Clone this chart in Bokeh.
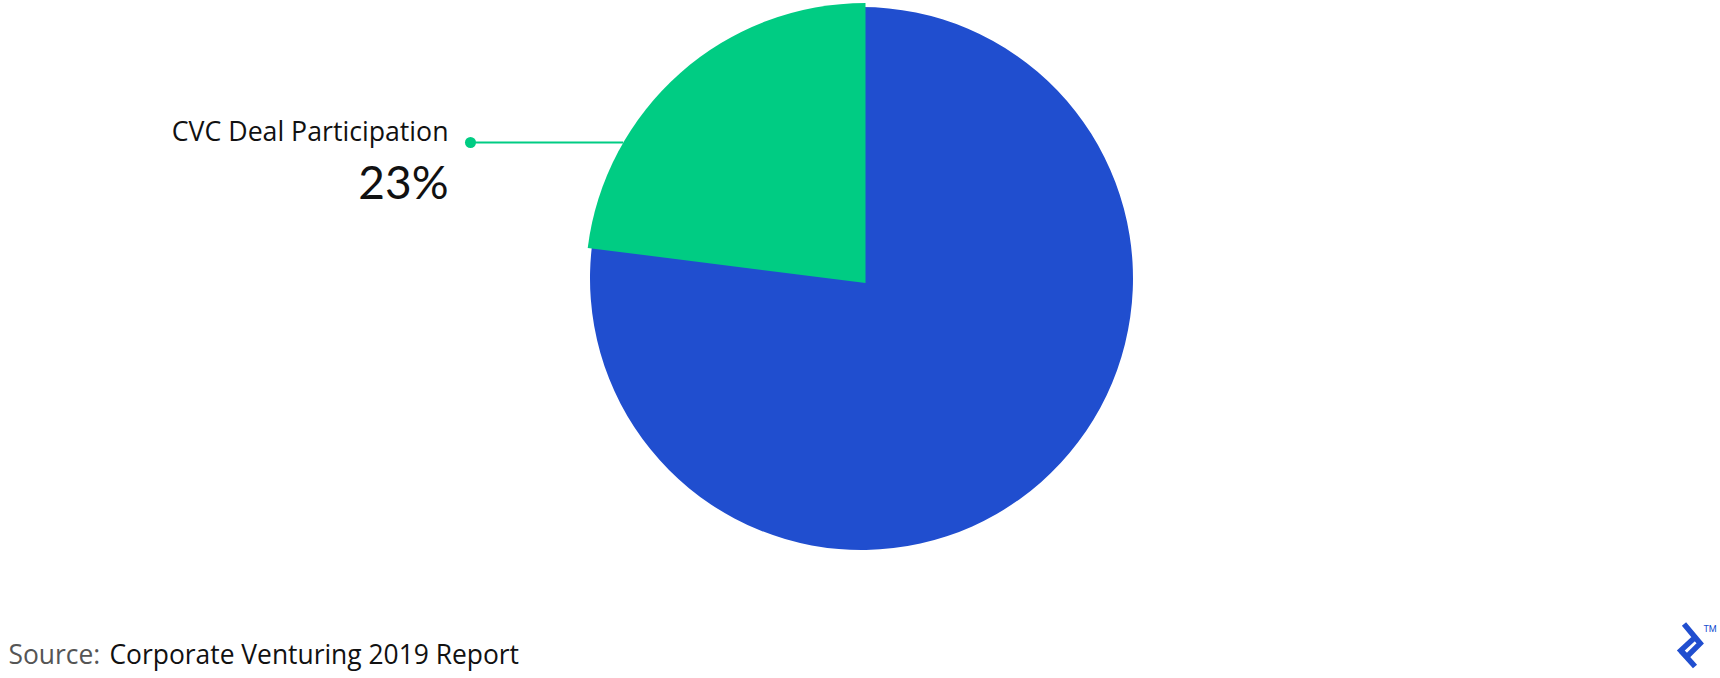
import numpy as np
from bokeh.plotting import figure
from bokeh.models import Range1d
from bokeh.core.properties import value
from bokeh.embed import file_html
from bokeh.resources import INLINE

# ---- data ----
categories = ["CVC Deal Participation", "Other"]
shares = [23, 77]
colors = ["#00CC83", "#204ECF"]
pct_labels = ["23%"]
source_prefix = "Source:"
source_text = "Corporate Venturing 2019 Report"

W, H = 1720, 678
FONT = "Open Sans"

# coordinates: x = screen px, y = 678 - screen py
p = figure(width=W, height=H, output_backend="svg", toolbar_location=None,
           x_range=Range1d(0, W), y_range=Range1d(0, H),
           min_border=0)
p.axis.visible = False
p.grid.visible = False
p.outline_line_color = None
p.background_fill_color = "white"
p.border_fill_color = "white"

def Y(sy):
    return H - sy

def TY(baseline, fs):
    # empirical correction of the rendered text baseline
    return Y(baseline - 0.44 * fs)

# angles (start at 12 o'clock, counter-clockwise for first slice)
fr = np.array(shares, dtype=float) / sum(shares)
start = np.pi / 2
ang = [start]
for f in fr:
    ang.append(ang[-1] + f * 2 * np.pi)

# blue slice (others) drawn first
p.wedge(x=[861], y=[Y(278)], radius=271.5,
        start_angle=[ang[1]], end_angle=[ang[2]],
        fill_color=colors[1], line_color=None)
# green slice
p.wedge(x=[865], y=[Y(282.5)], radius=280,
        start_angle=[ang[0]], end_angle=[ang[1]],
        fill_color=colors[0], line_color=None)

# leader line + dot
cy_g, r_g, cx_g = 282.5, 280, 865
ly = 142
lx_end = cx_g - np.sqrt(r_g**2 - (cy_g - ly) ** 2)
p.line(x=[470, lx_end], y=[Y(ly), Y(ly)], line_color=colors[0], line_width=2)
p.scatter(x=[470], y=[Y(ly)], size=11, marker="circle",
          fill_color=colors[0], line_color=None)

# labels
fs1 = 26.7
p.text(x=[448], y=[TY(142, fs1)], text=[categories[0]], text_align="right",
       text_baseline="alphabetic", text_font=value(FONT),
       text_font_size=f"{fs1}px", text_color="#111111")
fs2 = 46
p.text(x=[448], y=[TY(201, fs2)], text=pct_labels, text_align="right",
       text_baseline="alphabetic", text_font=value("Lato"),
       text_font_size=f"{fs2}px", text_color="#111111")

# source
fs3 = 26.4
p.text(x=[8], y=[TY(665, fs3)], text=[source_prefix], text_align="left",
       text_baseline="alphabetic", text_font=value(FONT),
       text_font_size=f"{fs3}px", text_color="#555555")
p.text(x=[109], y=[TY(665, fs3)], text=[source_text], text_align="left",
       text_baseline="alphabetic", text_font=value(FONT),
       text_font_size=f"{fs3}px", text_color="#111111")

# logo (approximate mark)
loop_x = [1683.5, 1699.7, 1686.4, 1680.3, 1694.1]
loop_y = [Y(623.5), Y(642.9), Y(656.2), Y(650.1), Y(637.3)]
p.line(x=loop_x, y=loop_y, line_color="#204ECF", line_width=5.5,
       line_join="miter")
p.line(x=[1680.3, 1694.5], y=[Y(650.1), Y(666.0)], line_color="#204ECF",
       line_width=5.5)
p.text(x=[1703], y=[TY(632, 9)], text=["TM"], text_align="left",
       text_baseline="alphabetic", text_font=value("Roboto"),
       text_font_size="9px", text_color="#204ECF")

open("out.html", "w").write(file_html(p, INLINE))
